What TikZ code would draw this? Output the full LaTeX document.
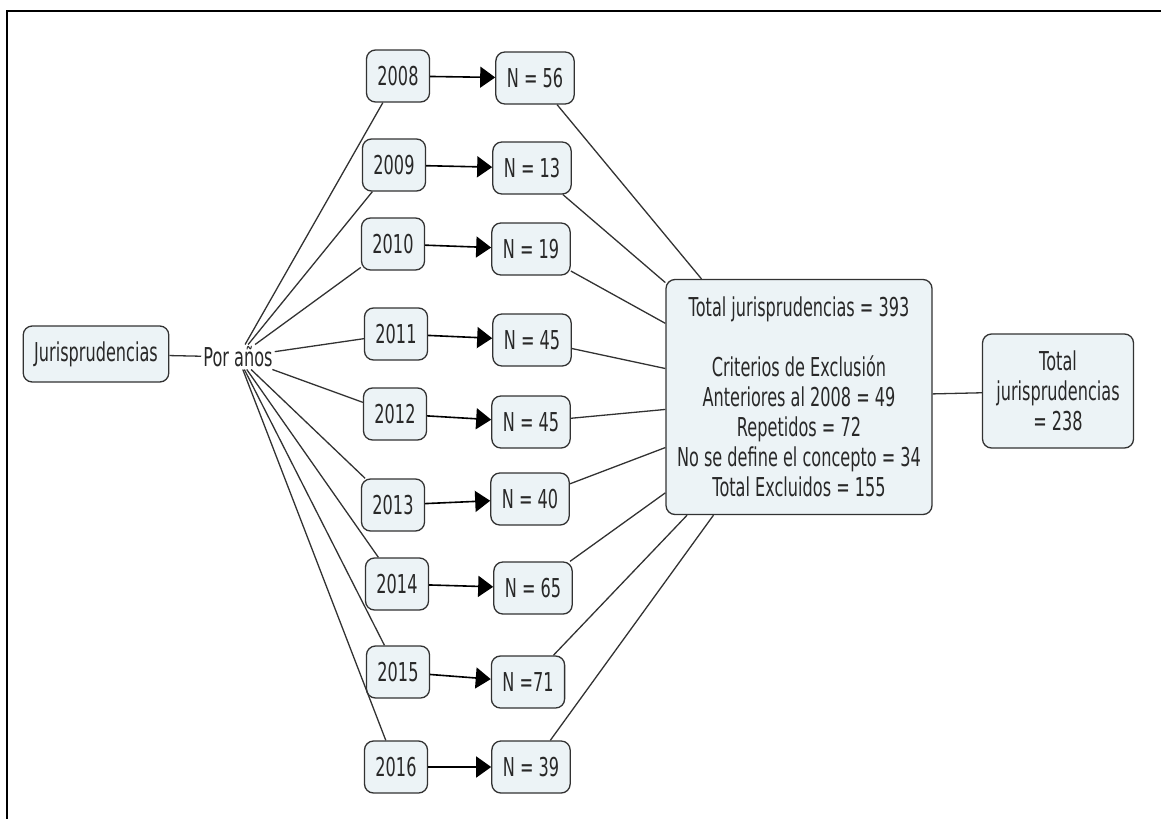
\documentclass[tikz,border=0pt]{standalone}
\usepackage{fontspec}
\setmainfont{DejaVu Sans}[FakeStretch=0.62]
\usepackage{tikz}
\usetikzlibrary{arrows.meta}
\definecolor{boxfill}{RGB}{236, 243, 246}
\definecolor{boxline}{RGB}{50, 50, 50}
\definecolor{textgray}{RGB}{40, 40, 40}

\begin{document}
\begin{tikzpicture}[
        x=1pt, y=-1pt,
        every node/.style={align=center, text=textgray, font=\fontsize{26}{30}\selectfont},
        caja/.style={draw=boxline, fill=boxfill, rounded corners=9pt, line width=1.3pt, inner xsep=11pt, minimum height=52pt},
        enlace/.style={draw=boxline, line width=1.3pt},
        flecha/.style={draw=black, line width=1.6pt, -{Triangle[length=15pt,width=21pt,color=black]}}
    ]
        \useasboundingbox (0,0) rectangle (1161,819);
        % Frame
        \draw[line width=2.5pt] (1161,11) -- (7,11) -- (7,819);

        % Root
        \node[caja, minimum width=145pt, minimum height=56pt] (juris) at (96,354) {Jurisprudencias};
        \node[inner sep=2pt] (anos) at (238,357) {Por años};

        % Years
        \node[caja] (y2008) at (398,76) {2008};
        \node[caja] (y2009) at (394,165) {2009};
        \node[caja] (y2010) at (393,244) {2010};
        \node[caja] (y2011) at (396,334) {2011};
        \node[caja] (y2012) at (395,414) {2012};
        \node[caja] (y2013) at (393,505) {2013};
        \node[caja] (y2014) at (397,584) {2014};
        \node[caja] (y2015) at (398,672) {2015};
        \node[caja] (y2016) at (396,767) {2016};

        % Counts
        \node[caja] (n2008) at (535,78) {N = 56};
        \node[caja] (n2009) at (532,168) {N = 13};
        \node[caja] (n2010) at (531,249) {N = 19};
        \node[caja] (n2011) at (532,340) {N = 45};
        \node[caja] (n2012) at (531,422) {N = 45};
        \node[caja] (n2013) at (530,499) {N = 40};
        \node[caja] (n2014) at (533,588) {N = 65};
        \node[caja] (n2015) at (528,682) {N =71};
        \node[caja] (n2016) at (531,767) {N = 39};

        % Totals
        \node[caja, minimum width=264pt, minimum height=235pt] (criterios) at (799,397) {Total jurisprudencias = 393\\[30pt]Criterios de Exclusión\\Anteriores al 2008 = 49\\Repetidos = 72\\No se define el concepto = 34\\Total Excluidos = 155};
        \node[caja, minimum width=151pt, minimum height=114pt] (total) at (1058,391) {Total\\jurisprudencias\\= 238};

        % Links
        \draw[enlace] (juris) -- (anos);
        \draw[enlace] (anos) -- (y2008);
        \draw[enlace] (anos) -- (y2009);
        \draw[enlace] (anos) -- (y2010);
        \draw[enlace] (anos) -- (y2011);
        \draw[enlace] (anos) -- (y2012);
        \draw[enlace] (anos) -- (y2013);
        \draw[enlace] (anos) -- (y2014);
        \draw[enlace] (anos) -- (y2015);
        \draw[enlace] (anos) -- (y2016);

        \draw[flecha] (y2008) -- (n2008);
        \draw[flecha] (y2009) -- (n2009);
        \draw[flecha] (y2010) -- (n2010);
        \draw[flecha] (y2011) -- (n2011);
        \draw[flecha] (y2012) -- (n2012);
        \draw[flecha] (y2013) -- (n2013);
        \draw[flecha] (y2014) -- (n2014);
        \draw[flecha] (y2015) -- (n2015);
        \draw[flecha] (y2016) -- (n2016);

        \draw[enlace] (n2008) -- (criterios);
        \draw[enlace] (n2009) -- (criterios);
        \draw[enlace] (n2010) -- (criterios);
        \draw[enlace] (n2011) -- (criterios);
        \draw[enlace] (n2012) -- (criterios);
        \draw[enlace] (n2013) -- (criterios);
        \draw[enlace] (n2014) -- (criterios);
        \draw[enlace] (n2015) -- (criterios);
        \draw[enlace] (n2016) -- (criterios);
        \draw[enlace] (criterios) -- (total);
    \end{tikzpicture}
\end{document}
